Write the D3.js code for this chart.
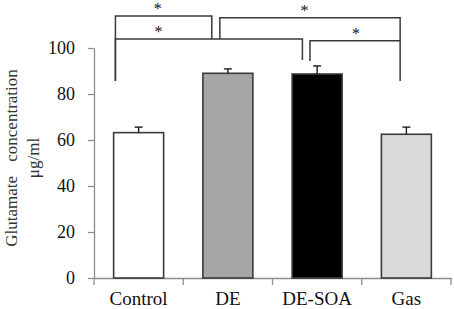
<!DOCTYPE html>
<html>
<head>
<meta charset="utf-8">
<script src="https://cdn.jsdelivr.net/npm/d3@7"></script>
<style>
  body { margin: 0; background: #fff; }
</style>
</head>
<body>
<div id="chart"></div>
<script>
// Data
const groups = ['Control', 'DE', 'DE-SOA', 'Gas'];
const means = [63.2, 89.0, 88.7, 62.5];
const errors = [2.4, 1.9, 3.5, 3.1];
const yTicks = [0, 20, 40, 60, 80, 100];

// significance comparisons: [from, to, top level, left leg end, right leg end]
const comparisons = [
  ['Control', 'DE', 113.9, 85.7, 103.9],
  ['Control', 'DE-SOA', 103.9, 85.7, 94.8],
  ['DE', 'Gas', 113.2, 103.9, 85.7],
  ['DE-SOA', 'Gas', 103.2, 94.3, 103.2]
];
const sigLabel = '*';

// layout for the brackets: where along each slot the legs sit, and where the star goes
const bracketLayout = [
  {fromAt: 0.24, toAt: 0.32, starAt: 0.44},
  {fromAt: 0.24, toAt: 0.335, starAt: 0.23},
  {fromAt: 0.41, toAt: 0.43, starAt: 0.47},
  {fromAt: 0.42, toAt: 0.43, starAt: 0.51}
];

const fills = ['#ffffff', '#a6a6a6', '#000000', '#d9d9d9'];
const serif = '"Liberation Serif", "Times New Roman", serif';

const width = 454, height = 309;
const margin = {top: 48, right: 3, bottom: 31, left: 94};

const svg = d3.select('#chart').append('svg')
    .attr('width', width)
    .attr('height', height)
    .style('font-family', serif);

const x = d3.scaleBand()
    .domain(groups)
    .range([margin.left, width - margin.right])
    .paddingInner(0.44)
    .paddingOuter(0.22);

const y = d3.scaleLinear()
    .domain([0, 100])
    .range([height - margin.bottom, margin.top]);

const slotStart = g => x(g) - (x.step() - x.bandwidth()) / 2;

// Y axis
const yAxisG = svg.append('g')
    .attr('transform', `translate(${margin.left},0)`)
    .call(d3.axisLeft(y).tickValues(yTicks).tickSize(6).tickSizeOuter(0).tickPadding(13));
yAxisG.attr('font-family', null);
yAxisG.selectAll('path, line').attr('stroke', '#8c8c8c').attr('stroke-width', 1.3);
yAxisG.selectAll('text')
    .style('font-family', serif)
    .style('font-size', '18px')
    .attr('fill', '#111');

// X axis
const xAxisG = svg.append('g')
    .attr('transform', `translate(0,${y(0)})`)
    .call(d3.axisBottom(x).tickSize(0).tickSizeOuter(0).tickPadding(14));
xAxisG.attr('font-family', null);
xAxisG.select('path').attr('stroke', '#8c8c8c').attr('stroke-width', 1.3);
xAxisG.selectAll('text')
    .style('font-family', serif)
    .style('font-size', '19px')
    .attr('fill', '#111');

// category boundary ticks
xAxisG.selectAll('.slot-tick')
  .data(d3.range(groups.length + 1))
  .join('line')
    .attr('class', 'slot-tick')
    .attr('x1', i => x.range()[0] + i * x.step())
    .attr('x2', i => x.range()[0] + i * x.step())
    .attr('y1', 0)
    .attr('y2', 7)
    .attr('stroke', '#8c8c8c')
    .attr('stroke-width', 1.3);

// Bars
svg.append('g').selectAll('rect')
  .data(groups)
  .join('rect')
    .attr('x', d => x(d))
    .attr('y', (d, i) => y(means[i]))
    .attr('width', x.bandwidth())
    .attr('height', (d, i) => y(0) - y(means[i]))
    .attr('fill', (d, i) => fills[i])
    .attr('stroke', '#3a3a3a')
    .attr('stroke-width', 1.6);

// Error bars (upper only)
const err = svg.append('g').attr('stroke', '#1a1a1a').attr('stroke-width', 1.4);
groups.forEach((g, i) => {
  const cx = x(g) + x.bandwidth() / 2;
  err.append('line')
      .attr('x1', cx).attr('x2', cx)
      .attr('y1', y(means[i])).attr('y2', y(means[i] + errors[i]));
  err.append('line')
      .attr('x1', cx - 4).attr('x2', cx + 4)
      .attr('y1', y(means[i] + errors[i])).attr('y2', y(means[i] + errors[i]));
});

// Significance brackets
const br = svg.append('g');
comparisons.forEach(([from, to, top, leftEnd, rightEnd], i) => {
  const lay = bracketLayout[i];
  const x1 = slotStart(from) + lay.fromAt * x.step();
  const x2 = slotStart(to) + lay.toAt * x.step();
  br.append('path')
      .attr('d', `M${x1},${y(leftEnd)}V${y(top)}H${x2}V${y(rightEnd)}`)
      .attr('fill', 'none')
      .attr('stroke', '#3a3a3a')
      .attr('stroke-width', 1.5);
  br.append('text')
      .attr('x', x1 + lay.starAt * (x2 - x1))
      .attr('y', y(top) - 2)
      .attr('text-anchor', 'middle')
      .style('font-family', serif)
      .style('font-size', '16px')
      .attr('fill', '#111')
      .text(sigLabel);
});

// Y axis title
const title = svg.append('text')
    .attr('transform', `translate(17,158) rotate(-90)`)
    .attr('text-anchor', 'middle')
    .style('font-family', serif)
    .style('font-size', '17px')
    .attr('fill', '#333');
title.append('tspan')
    .attr('x', 0).attr('y', 0)
    .attr('word-spacing', 10)
    .text('Glutamate concentration');
title.append('tspan')
    .attr('x', 0).attr('y', 22)
    .text('μg/ml');
</script>
</body>
</html>
